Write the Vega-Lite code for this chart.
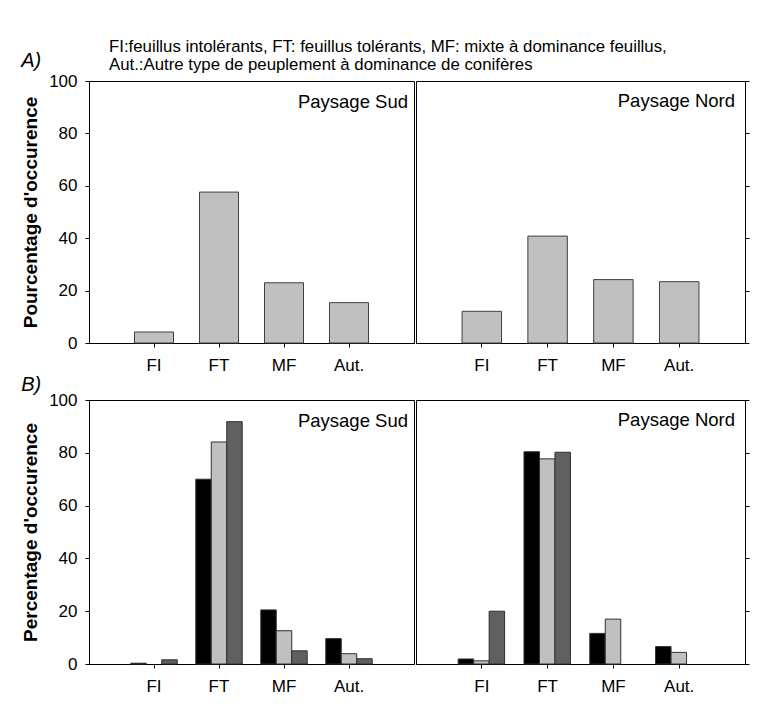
{
  "$schema": "https://vega.github.io/schema/vega-lite/v6.json",
  "background": "white",
  "padding": {"left": 21, "top": 39, "right": 5, "bottom": 5},
  "config": {
    "font": "Liberation Sans",
    "view": {"stroke": "#000000", "strokeWidth": 1},
    "axis": {
      "grid": false,
      "domainColor": "#000000",
      "tickColor": "#000000",
      "tickSize": 4,
      "labelFontSize": 17,
      "labelColor": "#000000",
      "labelFont": "Liberation Sans",
      "titleFont": "Liberation Sans",
      "titleFontSize": 19,
      "titleFontWeight": "bold",
      "titleColor": "#000000"
    },
    "title": {"font": "Liberation Sans", "color": "#000000", "fontWeight": "normal"}
  },
  "title": {
    "text": ["FI:feuillus intolérants, FT: feuillus tolérants, MF: mixte à dominance feuillus,", "Aut.:Autre type de peuplement à dominance de conifères"],
    "anchor": "start",
    "frame": "group",
    "fontSize": 16.8,
    "lineHeight": 17.5,
    "dx": 20,
    "offset": -23
  },
  "datasets": {
    "a": [
      {"paysage": "Sud", "type": "FI", "pct": 4.2},
      {"paysage": "Sud", "type": "FT", "pct": 57.6},
      {"paysage": "Sud", "type": "MF", "pct": 23.0},
      {"paysage": "Sud", "type": "Aut.", "pct": 15.4},
      {"paysage": "Nord", "type": "FI", "pct": 12.1},
      {"paysage": "Nord", "type": "FT", "pct": 40.8},
      {"paysage": "Nord", "type": "MF", "pct": 24.2},
      {"paysage": "Nord", "type": "Aut.", "pct": 23.4}
    ],
    "b": [
      {"paysage": "Sud", "type": "FI", "serie": "1", "pct": 0.3},
      {"paysage": "Sud", "type": "FI", "serie": "3", "pct": 1.6},
      {"paysage": "Sud", "type": "FT", "serie": "1", "pct": 70.0},
      {"paysage": "Sud", "type": "FT", "serie": "2", "pct": 84.1},
      {"paysage": "Sud", "type": "FT", "serie": "3", "pct": 91.8},
      {"paysage": "Sud", "type": "MF", "serie": "1", "pct": 20.5},
      {"paysage": "Sud", "type": "MF", "serie": "2", "pct": 12.6},
      {"paysage": "Sud", "type": "MF", "serie": "3", "pct": 5.0},
      {"paysage": "Sud", "type": "Aut.", "serie": "1", "pct": 9.6},
      {"paysage": "Sud", "type": "Aut.", "serie": "2", "pct": 3.9},
      {"paysage": "Sud", "type": "Aut.", "serie": "3", "pct": 2.0},
      {"paysage": "Nord", "type": "FI", "serie": "1", "pct": 1.9},
      {"paysage": "Nord", "type": "FI", "serie": "2", "pct": 1.2},
      {"paysage": "Nord", "type": "FI", "serie": "3", "pct": 20.0},
      {"paysage": "Nord", "type": "FT", "serie": "1", "pct": 80.4},
      {"paysage": "Nord", "type": "FT", "serie": "2", "pct": 77.7},
      {"paysage": "Nord", "type": "FT", "serie": "3", "pct": 80.2},
      {"paysage": "Nord", "type": "MF", "serie": "1", "pct": 11.6},
      {"paysage": "Nord", "type": "MF", "serie": "2", "pct": 17.0},
      {"paysage": "Nord", "type": "Aut.", "serie": "1", "pct": 6.6},
      {"paysage": "Nord", "type": "Aut.", "serie": "2", "pct": 4.4}
    ]
  },
  "spacing": 0,
  "vconcat": [
    {
      "title": {"text": "A)", "anchor": "start", "frame": "bounds", "fontSize": 20, "fontStyle": "italic", "offset": 1},
      "spacing": 0,
      "hconcat": [
        {
          "width": 325, "height": 262,
          "data": {"name": "a"},
          "transform": [{"filter": "datum.paysage === 'Sud'"}],
          "title": {"text": "Paysage Sud", "anchor": "end", "frame": "group", "fontSize": 18.5, "offset": -39, "dx": -6},
          "mark": {"type": "bar", "width": {"band": 0.6}, "fill": "#c0c0c0", "stroke": "#404040", "strokeWidth": 1},
          "encoding": {
            "x": {"field": "type", "type": "nominal", "sort": ["FI", "FT", "MF", "Aut."], "scale": {"domain": ["FI", "FT", "MF", "Aut."], "paddingInner": 0, "paddingOuter": 0.5}, "axis": {"title": null, "labelAngle": 0, "labelPadding": 10}},
            "y": {"field": "pct", "type": "quantitative", "scale": {"domain": [0, 100]}, "axis": {"title": "Pourcentage d'occurence", "values": [0, 20, 40, 60, 80, 100], "labelPadding": 8, "titlePadding": 8}}
          }
        },
        {
          "width": 329, "height": 262,
          "data": {"name": "a"},
          "transform": [{"filter": "datum.paysage === 'Nord'"}],
          "title": {"text": "Paysage Nord", "anchor": "end", "frame": "group", "fontSize": 18.5, "offset": -30, "dx": -10},
          "mark": {"type": "bar", "width": {"band": 0.6}, "fill": "#c0c0c0", "stroke": "#404040", "strokeWidth": 1},
          "encoding": {
            "x": {"field": "type", "type": "nominal", "sort": ["FI", "FT", "MF", "Aut."], "scale": {"domain": ["FI", "FT", "MF", "Aut."], "paddingInner": 0, "paddingOuter": 0.5}, "axis": {"title": null, "labelAngle": 0, "labelPadding": 10}},
            "y": {"field": "pct", "type": "quantitative", "scale": {"domain": [0, 100]}, "axis": {"orient": "right", "title": null, "labels": false, "values": [0, 20, 40, 60, 80, 100]}}
          }
        }
      ]
    },
    {
      "title": {"text": "B)", "anchor": "start", "frame": "bounds", "fontSize": 20, "fontStyle": "italic", "offset": -4},
      "spacing": 0,
      "hconcat": [
        {
          "width": 325, "height": 264,
          "data": {"name": "b"},
          "transform": [{"filter": "datum.paysage === 'Sud'"}],
          "title": {"text": "Paysage Sud", "anchor": "end", "frame": "group", "fontSize": 18.5, "offset": -39, "dx": -6},
          "mark": {"type": "bar", "stroke": "#303030", "strokeWidth": 1},
          "encoding": {
            "x": {"field": "type", "type": "nominal", "sort": ["FI", "FT", "MF", "Aut."], "scale": {"domain": ["FI", "FT", "MF", "Aut."], "paddingInner": 0, "paddingOuter": 0.5}, "axis": {"title": null, "labelAngle": 0, "labelPadding": 10}},
            "xOffset": {"field": "serie", "type": "nominal", "scale": {"domain": ["1", "2", "3"], "paddingInner": 0, "paddingOuter": 0.6}},
            "y": {"field": "pct", "type": "quantitative", "scale": {"domain": [0, 100]}, "axis": {"title": "Percentage d'occurence", "values": [0, 20, 40, 60, 80, 100], "labelPadding": 8, "titlePadding": 8}},
            "color": {"field": "serie", "type": "nominal", "scale": {"domain": ["1", "2", "3"], "range": ["#000000", "#c0c0c0", "#606060"]}, "legend": null}
          }
        },
        {
          "width": 329, "height": 264,
          "data": {"name": "b"},
          "transform": [{"filter": "datum.paysage === 'Nord'"}],
          "title": {"text": "Paysage Nord", "anchor": "end", "frame": "group", "fontSize": 18.5, "offset": -30, "dx": -10},
          "mark": {"type": "bar", "stroke": "#303030", "strokeWidth": 1},
          "encoding": {
            "x": {"field": "type", "type": "nominal", "sort": ["FI", "FT", "MF", "Aut."], "scale": {"domain": ["FI", "FT", "MF", "Aut."], "paddingInner": 0, "paddingOuter": 0.5}, "axis": {"title": null, "labelAngle": 0, "labelPadding": 10}},
            "xOffset": {"field": "serie", "type": "nominal", "scale": {"domain": ["1", "2", "3"], "paddingInner": 0, "paddingOuter": 0.6}},
            "y": {"field": "pct", "type": "quantitative", "scale": {"domain": [0, 100]}, "axis": {"orient": "right", "title": null, "labels": false, "values": [0, 20, 40, 60, 80, 100]}},
            "color": {"field": "serie", "type": "nominal", "scale": {"domain": ["1", "2", "3"], "range": ["#000000", "#c0c0c0", "#606060"]}, "legend": null}
          }
        }
      ]
    }
  ]
}
